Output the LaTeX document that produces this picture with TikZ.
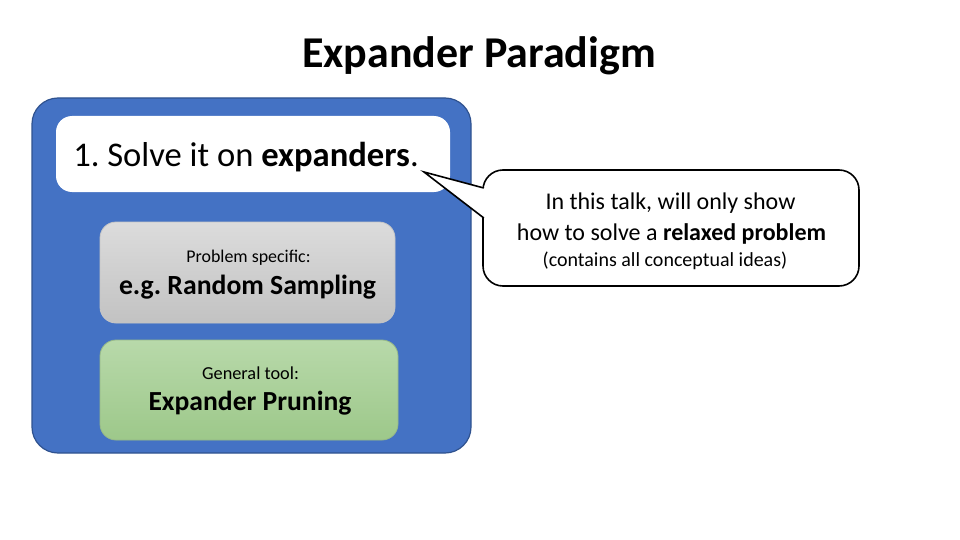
\documentclass[tikz,border=0pt]{standalone}
\usepackage{fontspec}
\setmainfont{Carlito}
\frenchspacing
\definecolor{outerblue}{HTML}{4472C4}
\definecolor{outerline}{HTML}{2F528F}
\definecolor{greytop}{HTML}{DCDCDC}
\definecolor{greybot}{HTML}{C2C2C2}
\definecolor{greentop}{HTML}{B8D9AA}
\definecolor{greenbot}{HTML}{9DC88A}
\tikzset{
  outerbox/.style={draw=outerline, line width=1.2pt, fill=outerblue, rounded corners=26pt},
  whitebox/.style={fill=white, rounded corners=16pt},
  innerbox/.style={draw=#1, line width=0.8pt, rounded corners=16pt},
  calloutbox/.style={draw=black, line width=1.6pt, fill=white, rounded corners=20pt},
  txt/.style={inner sep=0pt, anchor=base},
}
\newcommand{\fs}[1]{\fontsize{#1}{#1}\selectfont\frenchspacing}
\begin{document}
\begin{tikzpicture}[x=1pt,y=-1pt]
\useasboundingbox (0,0) rectangle (960,540);
% title
\node[txt] (title) at (479,68) {\fs{44}\bfseries Expander Paradigm};
% outer blue
\path[outerbox] (32,98) rectangle (471,453);
% white box
\path[whitebox] (56,116) rectangle (450,192);
\node[txt] (step) at (246,167) {\fs{34.6}1. Solve it on \textbf{expanders}.};
\coordinate (tip) at (424,172);
% callout
\path[calloutbox] (483,170) rectangle (859,286);
\fill[white] (tip) -- (485,188) -- (485,218) -- cycle;
\draw[line width=1.6pt, line join=miter] (483.8,188) -- (tip) -- (483.8,218);
\node[txt] (c1) at (670.5,209) {\fs{24}In this talk, will only show};
\node[txt] (c2) at (671.5,240) {\fs{24}how to solve a \textbf{relaxed problem}};
\node[txt] (c3) at (665,266) {\fs{20}(contains all conceptual ideas)};
% grey box
\shade[top color=greytop, bottom color=greybot, innerbox=gray!45] (100,222) rectangle (395,323);
\node[txt] (p1) at (248.5,262) {\fs{17.9}Problem specific:};
\node[txt] (p2) at (247.5,294) {\fs{27.7}\bfseries e.g. Random Sampling};
% green box
\shade[top color=greentop, bottom color=greenbot, innerbox=greenbot!80!gray] (100,340) rectangle (398,440);
\node[txt] (g1) at (250.5,379) {\fs{18.3}General tool:};
\node[txt] (g2) at (250,410) {\fs{27.6}\bfseries Expander Pruning};
\end{tikzpicture}
\end{document}
